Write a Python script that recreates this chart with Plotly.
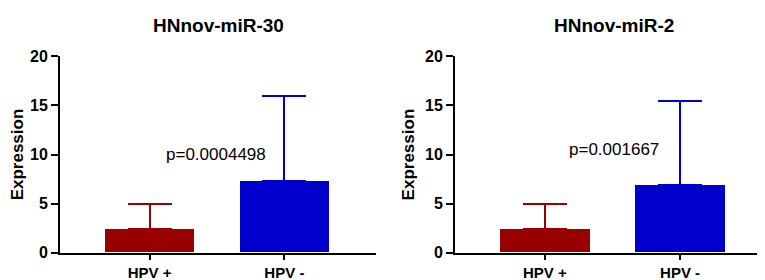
import plotly.graph_objects as go

categories = ["HPV +", "HPV -"]
titles = ["HNnov-miR-30", "HNnov-miR-2"]
mir30_means = [2.4, 7.3]
mir30_err = [2.6, 8.7]
mir2_means = [2.4, 6.9]
mir2_err = [2.6, 8.6]
p_texts = ["p=0.0004498", "p=0.001667"]
p_pos = [(0.49, 10.0), (0.51, 10.5)]
y_ticks = [0, 5, 10, 15, 20]

colors = ["#990000", "#0000CC"]
W, H = 765, 280

fig = go.Figure()
series = [(mir30_means, mir30_err), (mir2_means, mir2_err)]
for k, (means, errs) in enumerate(series):
    xa = "x" if k == 0 else "x2"
    ya = "y" if k == 0 else "y2"
    for i, cat in enumerate(categories):
        fig.add_trace(go.Bar(
            x=[i], y=[means[i]], width=0.66,
            marker=dict(color=colors[i], line=dict(width=0)),
            error_y=dict(type="data", symmetric=False, array=[errs[i]], arrayminus=[0],
                         color=colors[i], thickness=2, width=22),
            xaxis=xa, yaxis=ya, showlegend=False, hoverinfo="skip"))

common_x = dict(range=[-0.665, 1.68], tickvals=[0, 1], ticktext=categories,
                showline=True, linecolor="black", linewidth=2, ticks="outside",
                ticklen=5, tickwidth=2, tickcolor="black", showgrid=False, zeroline=False,
                tickfont=dict(family="Liberation Sans, Arial", size=15, color="black", weight="bold"),
                fixedrange=True)
common_y = dict(range=[0, 20], tickvals=y_ticks, showline=True, linecolor="black", linewidth=2,
                ticks="outside", ticklen=7, tickwidth=2, tickcolor="black", showgrid=False,
                zeroline=False,
                tickfont=dict(family="Liberation Sans, Arial", size=16, color="black", weight="bold"),
                title=dict(text="Expression", standoff=6,
                           font=dict(family="Liberation Sans, Arial", size=17, color="black", weight="bold")))

ydom = [(280 - 252) / H, (280 - 43) / H]
fig.update_layout(
    width=W, height=H, margin=dict(l=0, r=0, t=0, b=0),
    paper_bgcolor="white", plot_bgcolor="white", bargap=0,
    xaxis=dict(domain=[52 / W, 368 / W], anchor="y", **common_x),
    yaxis=dict(domain=ydom, anchor="x", **common_y),
    xaxis2=dict(domain=[447 / W, 764 / W], anchor="y2", **common_x),
    yaxis2=dict(domain=ydom, anchor="x2", **common_y),
)

title_x = [(52 + 368) / 2 / W, (447 + 764) / 2 / W]
for k in range(2):
    fig.add_annotation(text="<b>" + titles[k] + "</b>", xref="paper", yref="paper",
                       x=title_x[k], y=1 - 10 / H, xanchor="center", yanchor="middle",
                       showarrow=False,
                       font=dict(family="Liberation Sans, Arial", size=19, color="black"))
    fig.add_annotation(text=p_texts[k], xref="x" if k == 0 else "x2", yref="y" if k == 0 else "y2",
                       x=p_pos[k][0], y=p_pos[k][1], xanchor="center", yanchor="middle",
                       showarrow=False,
                       font=dict(family="Liberation Sans, Arial", size=17, color="black"))

fig.write_html("out.html", config={"displayModeBar": False})
